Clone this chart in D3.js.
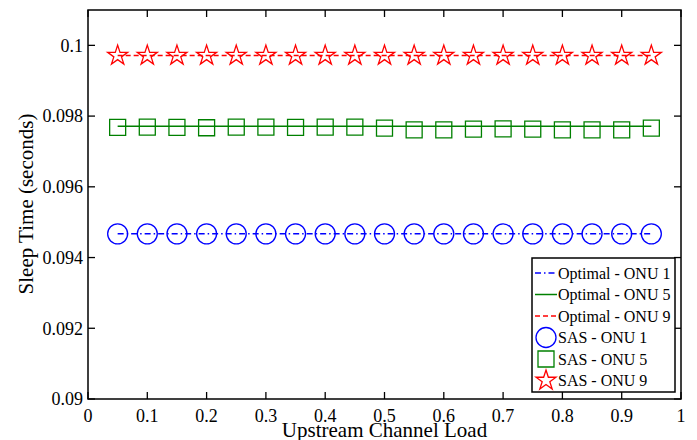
<!DOCTYPE html>
<html>
<head>
<meta charset="utf-8">
<script src="https://cdn.jsdelivr.net/npm/d3@7"></script>
<style>
  html, body { margin: 0; padding: 0; background: #fff; }
  svg { display: block; }
  svg text { font-family: "Liberation Serif", "DejaVu Serif", serif; fill: #000; }
</style>
</head>
<body>
<svg id="chart" width="697" height="440"></svg>
<script>
const loads = [0.05, 0.1, 0.15, 0.2, 0.25, 0.3, 0.35, 0.4, 0.45, 0.5, 0.55, 0.6, 0.65, 0.7, 0.75, 0.8, 0.85, 0.9, 0.95];

const optimalOnu1 = [0.09467, 0.09467, 0.09467, 0.09467, 0.09467, 0.09467, 0.09467, 0.09467, 0.09467, 0.09467, 0.09467, 0.09467, 0.09467, 0.09467, 0.09467, 0.09467, 0.09467, 0.09467, 0.09467];
const optimalOnu5 = [0.09771, 0.09771, 0.09771, 0.09771, 0.09771, 0.09771, 0.09771, 0.09771, 0.09771, 0.09771, 0.09771, 0.09771, 0.09771, 0.09771, 0.09771, 0.09771, 0.09771, 0.09771, 0.09771];
const optimalOnu9 = [0.09971, 0.09971, 0.09971, 0.09971, 0.09971, 0.09971, 0.09971, 0.09971, 0.09971, 0.09971, 0.09971, 0.09971, 0.09971, 0.09971, 0.09971, 0.09971, 0.09971, 0.09971, 0.09971];

const sasOnu1 = [0.09467, 0.09467, 0.09467, 0.09467, 0.09467, 0.09467, 0.09467, 0.09467, 0.09467, 0.09467, 0.09467, 0.09467, 0.09467, 0.09467, 0.09467, 0.09467, 0.09467, 0.09467, 0.09467];
const sasOnu5 = [0.09768, 0.09769, 0.09768, 0.09767, 0.09769, 0.09769, 0.09768, 0.09769, 0.09769, 0.09766, 0.09761, 0.09761, 0.09763, 0.09764, 0.09763, 0.09761, 0.09761, 0.09761, 0.09766];
const sasOnu9 = [0.09971, 0.09971, 0.09971, 0.09971, 0.09971, 0.09971, 0.09971, 0.09971, 0.09971, 0.09971, 0.09971, 0.09971, 0.09971, 0.09971, 0.09971, 0.09971, 0.09971, 0.09971, 0.09971];

const xTicks = [0, 0.1, 0.2, 0.3, 0.4, 0.5, 0.6, 0.7, 0.8, 0.9, 1];
const yTicks = [0.09, 0.092, 0.094, 0.096, 0.098, 0.1];
const xTickLabels = ["0", "0.1", "0.2", "0.3", "0.4", "0.5", "0.6", "0.7", "0.8", "0.9", "1"];
const yTickLabels = ["0.09", "0.092", "0.094", "0.096", "0.098", "0.1"];

const legendLabels = ["Optimal - ONU 1", "Optimal - ONU 5", "Optimal - ONU 9", "SAS - ONU 1", "SAS - ONU 5", "SAS - ONU 9"];

const svg = d3.select("#chart");
const margin = { left: 88, right: 16, top: 10, bottom: 41 };
const width = 697, height = 440;

const x = d3.scaleLinear().domain([0, 1]).range([margin.left, width - margin.right]);
const y = d3.scaleLinear().domain([0.09, 0.101]).range([height - margin.bottom, margin.top]);

const blue = "#0000ff", green = "#008000", red = "#ff0000";

const lines = [
  { data: optimalOnu1, color: blue, dash: "6,3,1.5,3" },
  { data: optimalOnu5, color: green, dash: null },
  { data: optimalOnu9, color: red, dash: "5,3" }
];

const line = d3.line().x((d, i) => x(loads[i])).y(d => y(d));

const plot = svg.append("g");
lines.forEach(s => {
  plot.append("path")
    .datum(s.data)
    .attr("fill", "none")
    .attr("stroke", s.color)
    .attr("stroke-width", 1.5)
    .attr("stroke-dasharray", s.dash)
    .attr("d", line);
});

const circleSym = d3.symbol().type(d3.symbolCircle).size(Math.PI * 100);
const squareSym = d3.symbol().type(d3.symbolSquare).size(256);
const starSym = d3.symbol().type(d3.symbolStar).size(124);

const markers = [
  { data: sasOnu1, color: blue, sym: circleSym },
  { data: sasOnu5, color: green, sym: squareSym },
  { data: sasOnu9, color: red, sym: starSym }
];

markers.forEach(s => {
  plot.append("g")
    .selectAll("path")
    .data(s.data)
    .join("path")
    .attr("transform", (d, i) => `translate(${x(loads[i])},${y(d)})`)
    .attr("d", s.sym())
    .attr("fill", "none")
    .attr("stroke", s.color)
    .attr("stroke-width", 1.3);
});

// axes with inward ticks on all four sides
const tickLen = 7;
const axisG = svg.append("g").attr("stroke", "#000").attr("stroke-width", 1.3);
axisG.selectAll(".xt").data(xTicks).join("line")
  .attr("x1", d => x(d)).attr("x2", d => x(d))
  .attr("y1", y.range()[0]).attr("y2", y.range()[0] - tickLen);
axisG.selectAll(".xtt").data(xTicks).join("line")
  .attr("x1", d => x(d)).attr("x2", d => x(d))
  .attr("y1", y.range()[1]).attr("y2", y.range()[1] + tickLen);
axisG.selectAll(".yt").data(yTicks).join("line")
  .attr("y1", d => y(d)).attr("y2", d => y(d))
  .attr("x1", x.range()[0]).attr("x2", x.range()[0] + tickLen);
axisG.selectAll(".ytr").data(yTicks).join("line")
  .attr("y1", d => y(d)).attr("y2", d => y(d))
  .attr("x1", x.range()[1]).attr("x2", x.range()[1] - tickLen);

// legend
const lg = svg.append("g");
const lgX = 532, lgY = 258, lgW = 143, lgH = 134;
lg.append("rect")
  .attr("x", lgX).attr("y", lgY).attr("width", lgW).attr("height", lgH)
  .attr("fill", "#fff").attr("stroke", "#000").attr("stroke-width", 1.5);

const rowY = [273, 294.5, 316, 337.5, 359, 380.5];
lines.forEach((s, i) => {
  lg.append("line")
    .attr("x1", 535).attr("x2", 557)
    .attr("y1", rowY[i]).attr("y2", rowY[i])
    .attr("stroke", s.color).attr("stroke-width", 1.5)
    .attr("stroke-dasharray", s.dash);
});
markers.forEach((s, i) => {
  lg.append("path")
    .attr("transform", `translate(546,${rowY[i + 3]})`)
    .attr("d", s.sym())
    .attr("fill", "none").attr("stroke", s.color).attr("stroke-width", 1.3);
});
lg.selectAll("text").data(legendLabels).join("text")
  .attr("x", 558).attr("y", (d, i) => rowY[i])
  .attr("dy", "0.35em")
  .attr("font-size", 16)
  .text(d => d);

// box frame
svg.append("rect")
  .attr("x", x.range()[0]).attr("y", y.range()[1])
  .attr("width", x.range()[1] - x.range()[0])
  .attr("height", y.range()[0] - y.range()[1])
  .attr("fill", "none").attr("stroke", "#000").attr("stroke-width", 1.5);

// tick labels
svg.append("g").selectAll("text").data(xTicks).join("text")
  .attr("x", d => x(d)).attr("y", 422)
  .attr("text-anchor", "middle")
  .attr("font-size", 18)
  .text((d, i) => xTickLabels[i]);

svg.append("g").selectAll("text").data(yTicks).join("text")
  .attr("x", x.range()[0] - 5).attr("y", d => y(d))
  .attr("dy", "0.35em")
  .attr("text-anchor", "end")
  .attr("font-size", 18)
  .text((d, i) => yTickLabels[i]);

svg.append("text")
  .attr("x", x(0.5)).attr("y", 437)
  .attr("text-anchor", "middle")
  .attr("font-size", 21)
  .text("Upstream Channel Load");

svg.append("text")
  .attr("transform", `translate(33,204) rotate(-90)`)
  .attr("text-anchor", "middle")
  .attr("font-size", 21)
  .text("Sleep Time (seconds)");
</script>
</body>
</html>
